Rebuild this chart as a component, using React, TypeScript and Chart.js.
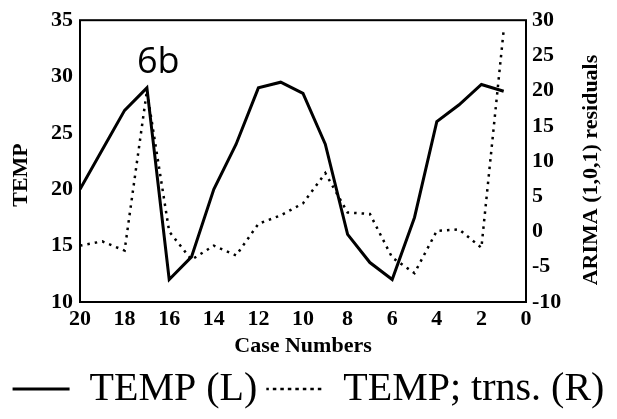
import React, { useEffect, useRef } from "react";
import { Chart, registerables } from "chart.js";

Chart.register(...registerables);

const caseNumbers = [20, 19, 18, 17, 16, 15, 14, 13, 12, 11, 10, 9, 8, 7, 6, 5, 4, 3, 2, 1];
const tempL = [20, 23.5, 27, 29, 12, 14, 20, 24, 29, 29.5, 28.5, 24, 16, 13.5, 12, 17.5, 26, 27.5, 29.3, 28.7];
const tempResidR = [-2, -1.4, -2.7, 20, 0, -4, -2, -3.4, 1.1, 2.3, 4, 8.3, 2.7, 2.5, -3.7, -5.9, 0.1, 0.3, -2.3, 28.6];
const xTicks = [20, 18, 16, 14, 12, 10, 8, 6, 4, 2, 0];
const leftTicks = [10, 15, 20, 25, 30, 35];
const rightTicks = [-10, -5, 0, 5, 10, 15, 20, 25, 30];

const SERIF = '"Liberation Serif", "Times New Roman", serif';

export default function App() {
  const ref = useRef<HTMLCanvasElement>(null);

  useEffect(() => {
    if (!ref.current) return;
    const framePlugin = {
      id: "frameAndText",
      afterDatasetsDraw(chart: any) {
        const { ctx, chartArea } = chart;
        ctx.save();
        ctx.strokeStyle = "#000";
        ctx.lineWidth = 2;
        ctx.strokeRect(chartArea.left, chartArea.top, chartArea.right - chartArea.left, chartArea.bottom - chartArea.top);
        ctx.fillStyle = "#000";
        ctx.font = '36px "Open Sans", sans-serif';
        ctx.textAlign = "left";
        ctx.textBaseline = "alphabetic";
        ctx.fillText("6b", 137, 73);
        ctx.font = "bold 22px " + SERIF;
        ctx.textAlign = "center";
        ctx.textBaseline = "middle";
        ctx.save();
        ctx.translate(21, 175);
        ctx.rotate(-Math.PI / 2);
        ctx.fillText("TEMP", 0, 0);
        ctx.restore();
        ctx.save();
        ctx.translate(591, 170);
        ctx.rotate(-Math.PI / 2);
        ctx.fillText("ARIMA (1,0,1) residuals", 0, 0);
        ctx.restore();
        ctx.restore();
      },
    };

    const tickFont = { family: SERIF, size: 22, weight: "bold" as const };

    const chart = new Chart(ref.current, {
      type: "line",
      data: {
        datasets: [
          {
            label: "TEMP (L)",
            data: caseNumbers.map((c, i) => ({ x: c, y: tempL[i] })),
            yAxisID: "y",
            borderColor: "#000",
            backgroundColor: "#000",
            borderWidth: 3,
            pointRadius: 0,
            tension: 0,
          },
          {
            label: "TEMP; trns. (R)",
            data: caseNumbers.map((c, i) => ({ x: c, y: tempResidR[i] })),
            yAxisID: "y1",
            borderColor: "#000",
            backgroundColor: "#000",
            borderWidth: 2.5,
            borderDash: [2.5, 5],
            pointRadius: 0,
            tension: 0,
          },
        ],
      },
      options: {
        responsive: false,
        animation: false,
        devicePixelRatio: 1,
        layout: { padding: { top: 18, left: 0, right: 0, bottom: 0 } },
        plugins: {
          tooltip: { enabled: false },
          legend: {
            position: "bottom",
            labels: {
              color: "#000",
              font: { family: SERIF, size: 40 },
              boxWidth: 57,
              boxHeight: 0,
              padding: 9,
            },
          },
        },
        scales: {
          x: {
            type: "linear",
            reverse: true,
            min: 0,
            max: 20,
            grid: { display: false, drawTicks: false },
            border: { display: false },
            afterBuildTicks: (s: any) => {
              s.ticks = xTicks.map((v) => ({ value: v }));
            },
            ticks: { color: "#000", font: tickFont, padding: 4, maxRotation: 0, autoSkip: false },
            title: {
              display: true,
              text: "Case Numbers",
              color: "#000",
              font: { family: SERIF, size: 22, weight: "bold" },
              padding: { top: 2, bottom: 0 },
            },
            afterFit: (s: any) => {
              const lh = s.chart.legend ? s.chart.legend.height : 59;
              s.height = 419 - 302 - lh;
            },
          },
          y: {
            position: "left",
            min: 10,
            max: 35,
            grid: { display: false, drawTicks: false },
            border: { display: false },
            afterBuildTicks: (s: any) => {
              s.ticks = leftTicks.map((v) => ({ value: v }));
            },
            ticks: { color: "#000", font: tickFont, padding: 7 },
            afterFit: (s: any) => {
              s.width = 80;
            },
          },
          y1: {
            position: "right",
            min: -10,
            max: 30,
            grid: { display: false, drawTicks: false },
            border: { display: false },
            afterBuildTicks: (s: any) => {
              s.ticks = rightTicks.map((v) => ({ value: v }));
            },
            ticks: { color: "#000", font: tickFont, padding: 6 },
            afterFit: (s: any) => {
              s.width = 91;
            },
          },
        },
      },
      plugins: [framePlugin],
    });
    return () => chart.destroy();
  }, []);

  return (
    <div style={{ position: "absolute", left: 0, top: 0, width: 617, height: 419, background: "#fff" }}>
      <canvas ref={ref} width={617} height={419} style={{ display: "block" }} />
    </div>
  );
}
